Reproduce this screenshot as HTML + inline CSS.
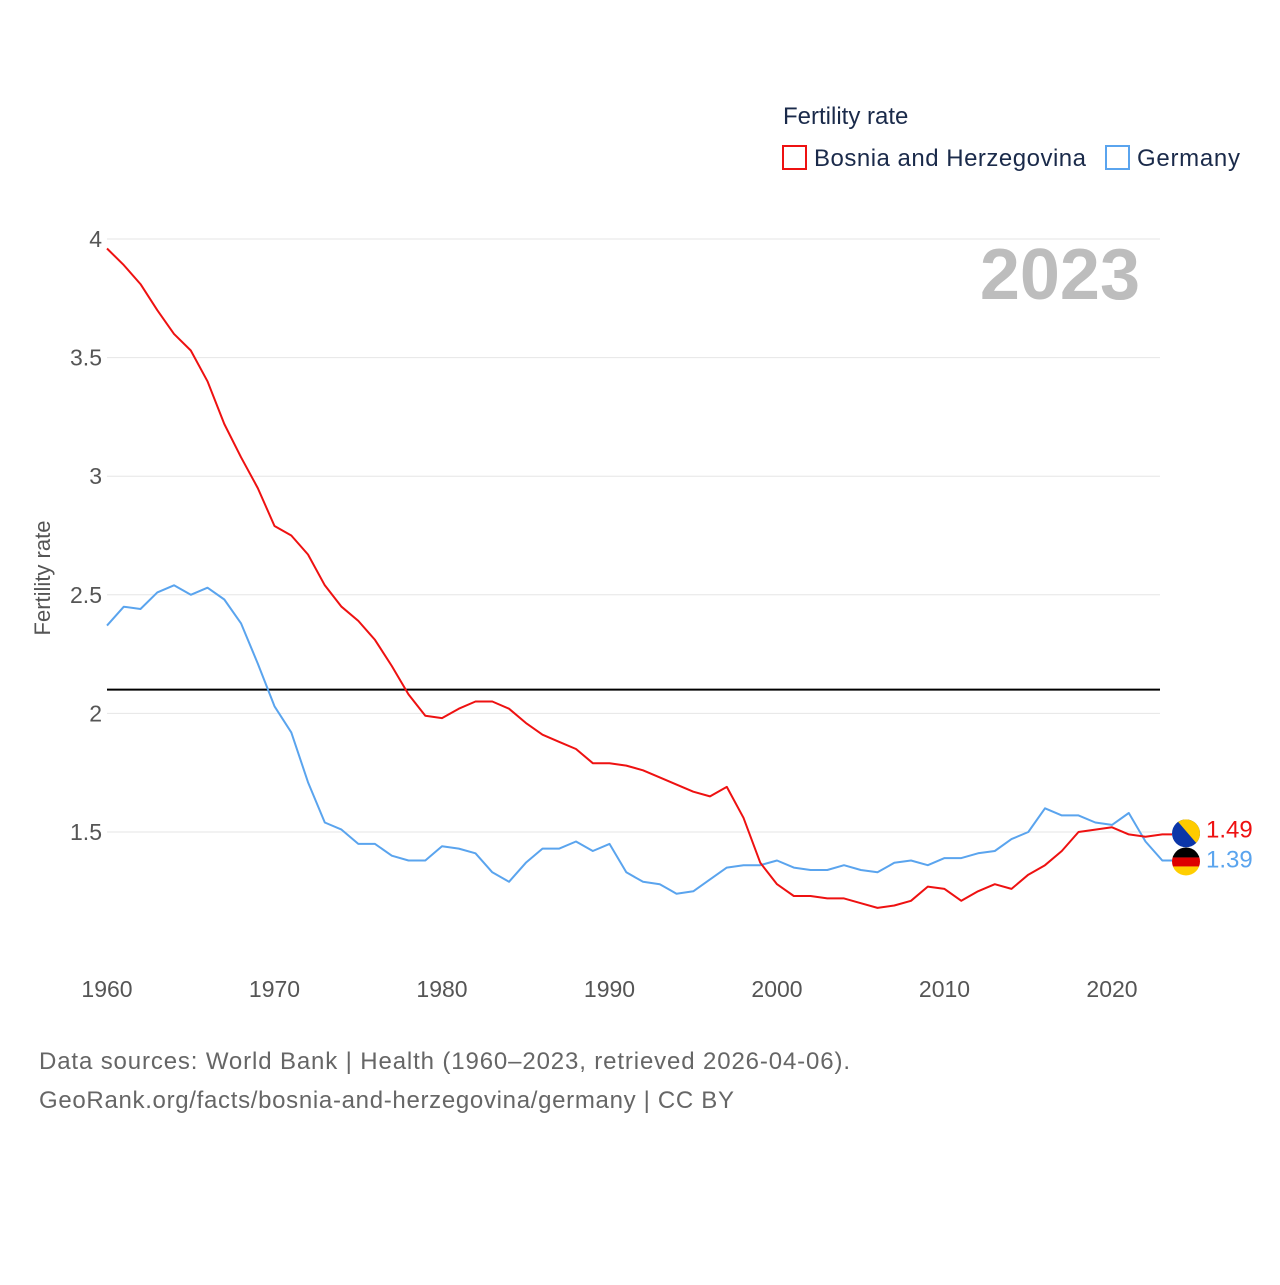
<!DOCTYPE html>
<html><head><meta charset="utf-8"><style>
body{margin:0;background:#fff;font-family:"Liberation Sans",sans-serif}
svg text{font-family:"Liberation Sans",sans-serif}
</style></head><body>
<svg width="1280" height="1280" xmlns="http://www.w3.org/2000/svg">
<defs id="defs"></defs>
<g id="grid"></g>
<g id="yticks"></g>
<g id="xticks"></g>
<text x="1140" y="299" text-anchor="end" font-size="72" font-weight="bold" fill="#bdbdbd">2023</text>
<text transform="translate(50,578) rotate(-90)" text-anchor="middle" font-size="22" fill="#555">Fertility rate</text>
<g id="series"></g>
<text x="783" y="124" font-size="24" fill="#1a2a4a">Fertility rate</text>
<g><rect x="783" y="146" width="23" height="23" fill="none" stroke="#ee1111" stroke-width="2"/><text x="814" y="166" font-size="24" fill="#1a2a4a" textLength="272">Bosnia and Herzegovina</text></g>
<g><rect x="1106" y="146" width="23" height="23" fill="none" stroke="#5aa4ee" stroke-width="2"/><text x="1137" y="166" font-size="24" fill="#1a2a4a" textLength="103">Germany</text></g>
<text x="39" y="1069" font-size="24" fill="#666" textLength="811">Data sources: World Bank | Health (1960–2023, retrieved 2026-04-06).</text>
<text x="39" y="1108" font-size="24" fill="#666" textLength="695">GeoRank.org/facts/bosnia-and-herzegovina/germany | CC BY</text>
</svg>
<script>
const years=[];for(let y=1960;y<=2023;y++)years.push(y);
const bosnia=[3.96,3.89,3.81,3.70,3.60,3.53,3.40,3.22,3.08,2.95,2.79,2.75,2.67,2.54,2.45,2.39,2.31,2.20,2.08,1.99,1.98,2.02,2.05,2.05,2.02,1.96,1.91,1.88,1.85,1.79,1.79,1.78,1.76,1.73,1.70,1.67,1.65,1.69,1.56,1.37,1.28,1.23,1.23,1.22,1.22,1.20,1.18,1.19,1.21,1.27,1.26,1.21,1.25,1.28,1.26,1.32,1.36,1.42,1.50,1.51,1.52,1.49,1.48,1.49];
const germany=[2.37,2.45,2.44,2.51,2.54,2.50,2.53,2.48,2.38,2.21,2.03,1.92,1.71,1.54,1.51,1.45,1.45,1.40,1.38,1.38,1.44,1.43,1.41,1.33,1.29,1.37,1.43,1.43,1.46,1.42,1.45,1.33,1.29,1.28,1.24,1.25,1.30,1.35,1.36,1.36,1.38,1.35,1.34,1.34,1.36,1.34,1.33,1.37,1.38,1.36,1.39,1.39,1.41,1.42,1.47,1.50,1.60,1.57,1.57,1.54,1.53,1.58,1.46,1.38];
const yTicks=[1.5,2,2.5,3,3.5,4];
const yTickLabels=["1.5","2","2.5","3","3.5","4"];
const xTicks=[1960,1970,1980,1990,2000,2010,2020];
const replacement=2.1;
const endLabels=["1.49","1.39"];
const NS="http://www.w3.org/2000/svg";
const X=y=>107+(y-1960)*16.75;
const Y=v=>832-(v-1.5)*237.2;
function mk(t,a,p){const e=document.createElementNS(NS,t);for(const k in a)e.setAttribute(k,a[k]);p.appendChild(e);return e;}
const grid=document.getElementById('grid'),yt=document.getElementById('yticks'),xt=document.getElementById('xticks'),ser=document.getElementById('series'),defs=document.getElementById('defs');
yTicks.forEach((v,i)=>{
 const l=mk('line',{x1:107,x2:1160,y1:Y(v),y2:Y(v),stroke:'#e6e6e6','stroke-width':1},grid);
 
 
 const t=mk('text',{x:102,y:Y(v)+8,'text-anchor':'end','font-size':23,fill:'#555'},yt);t.textContent=yTickLabels[i];
 
 
});
xTicks.forEach(v=>{
 const t=mk('text',{x:X(v),y:997,'text-anchor':'middle','font-size':23,fill:'#555'},xt);t.textContent=v;
 
 
});
const rl=mk('line',{x1:107,x2:1160,y1:Y(replacement),y2:Y(replacement),stroke:'#000','stroke-width':2},ser);


function line(d,c,name){
 let p=d.map((v,i)=>(i?'L':'M')+X(years[i]).toFixed(1)+','+Y(v).toFixed(1)).join('');
 p+='L1172,'+Y(d[d.length-1]).toFixed(1);
 const e=mk('path',{d:p,fill:'none',stroke:c,'stroke-width':2,'stroke-linejoin':'round'},ser);
 
 
}
line(germany,'#5aa4ee','germany-line');
line(bosnia,'#ee1111','bosnia-line');
function flag(cy,name,kind){
 const cp=mk('clipPath',{id:'c'+kind},defs);mk('circle',{cx:1186,cy:cy,r:14},cp);
 const g=mk('g',{'clip-path':'url(#c'+kind+')'},ser);
 
 
 if(kind==='ba'){mk('rect',{x:1172,y:cy-14,width:28,height:28,fill:'#0b36a8'},g);mk('path',{d:`M1176,${cy-14} L1200,${cy-14} L1200,${cy+14}Z`,fill:'#fecb00'},g);}
 else{mk('rect',{x:1172,y:cy-14,width:28,height:10,fill:'#000'},g);mk('rect',{x:1172,y:cy-4,width:28,height:9,fill:'#dd0000'},g);mk('rect',{x:1172,y:cy+5,width:28,height:9,fill:'#ffce00'},g);}
}
flag(Y(bosnia[bosnia.length-1])-1,'bosnia-flag','ba');
flag(Y(germany[germany.length-1])+1,'germany-flag','de');
[[bosnia,'#ee1111','bosnia-end-label'],[germany,'#5aa4ee','germany-end-label']].forEach((s,i)=>{
 const t=mk('text',{x:1206,y:Y(s[0][s[0].length-1])+3+i*4,'font-size':24,fill:s[1]},ser);t.textContent=endLabels[i];
 
 
});
</script>
</body></html>
